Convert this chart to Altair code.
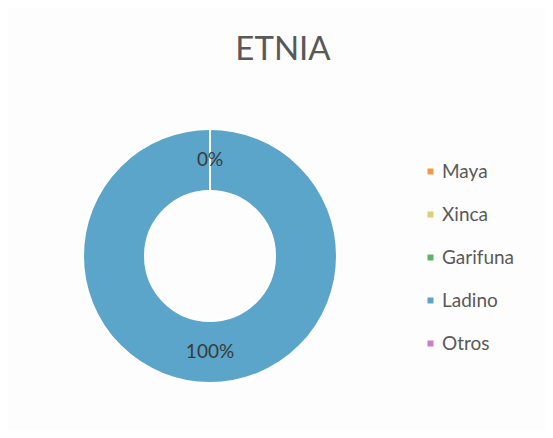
import altair as alt
import pandas as pd

categories = ["Maya", "Xinca", "Garifuna", "Ladino", "Otros"]
values = [0, 0, 0, 100, 0]
colors = ["#F79646", "#D8D07A", "#5DB36A", "#5AA5C9", "#C77DC7"]

df = pd.DataFrame({"etnia": categories, "valor": values, "orden": list(range(len(categories)))})
df["label"] = [f"{v}%" for v in values]
# only one label per stacked position (zero slices overlap)
df["show"] = ~df["label"].duplicated()

cx, cy = 202, 248
r_out, r_in = 127, 65

base = alt.Chart(df)

arc = base.mark_arc(outerRadius=r_out, innerRadius=r_in, stroke="white", strokeWidth=2).encode(
    theta=alt.Theta("valor:Q", stack=True),
    order=alt.Order("orden:Q"),
    x=alt.value(cx),
    y=alt.value(cy),
    color=alt.Color(
        "etnia:N",
        scale=alt.Scale(domain=categories, range=colors),
        sort=categories,
        legend=alt.Legend(
            title=None,
            orient="none",
            legendX=413,
            legendY=154,
            symbolType="square",
            symbolSize=36,
            symbolStrokeWidth=0,
            labelFontSize=19,
            labelFont="Lato",
            labelColor="#595959",
            rowPadding=23,
            labelOffset=2,
        ),
    ),
)

text = base.transform_filter("datum.show").mark_text(
    radius=(r_out + r_in) / 2, fontSize=19, font="Lato", color="#3a3a3a"
).encode(
    theta=alt.Theta("valor:Q", stack=True),
    order=alt.Order("orden:Q"),
    x=alt.value(cx),
    y=alt.value(cy),
    text="label:N",
)

title = alt.Chart(pd.DataFrame({"t": ["ETNIA"]})).mark_text(
    fontSize=33, font="Lato", color="#595959"
).encode(x=alt.value(275), y=alt.value(42), text="t:N")

chart = alt.layer(arc, text, title).properties(
    width=537, height=422, padding=0, background="#fdfdfd"
).configure_view(stroke=None)

chart.save("out.html", embed_options={"renderer": "svg", "actions": False})
